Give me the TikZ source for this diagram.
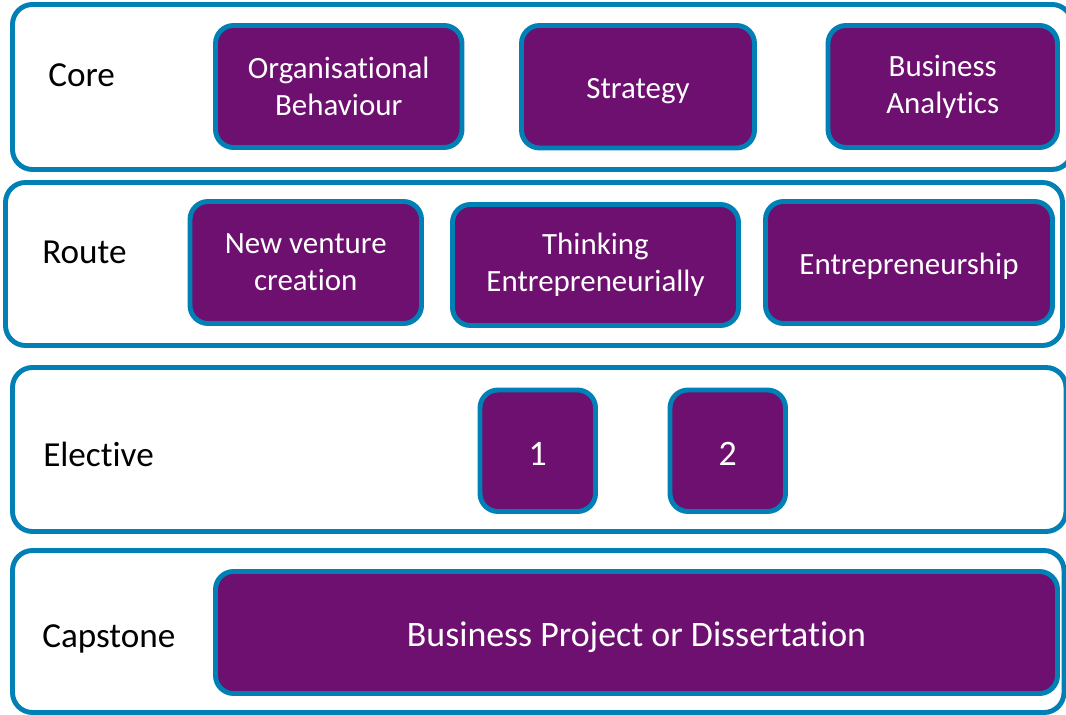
\documentclass[tikz,border=0pt]{standalone}
\usepackage{fontspec}
\setmainfont{Carlito}[Ligatures={NoCommon}]
\usetikzlibrary{fit}
\definecolor{rowblue}{RGB}{0,128,180}
\definecolor{modpurple}{RGB}{110,16,111}

\begin{document}
\begin{tikzpicture}[
        x=0.025cm, y=-0.025cm,
        rowbox/.style={rectangle, draw=rowblue, line width=3.5pt, rounded corners=0.5cm, fill=white, inner sep=0pt},
        module/.style={rectangle, draw=rowblue, line width=3.5pt, rounded corners=0.45cm, fill=modpurple, text=white, align=center, inner sep=0pt, font=\fontsize{22}{26.3}\selectfont},
        oneline/.style={text height=16.5pt, text depth=0pt},
        bigmodule/.style={module, text height=20.5pt, text depth=0pt, font=\fontsize{25.5}{30}\selectfont},
        modsize/.style 2 args={minimum width=#1*0.025cm, minimum height=#2*0.025cm},
        rowlabel/.style={anchor=base west, inner sep=0pt, font=\fontsize{25}{30}\selectfont}
    ]
        \useasboundingbox (0,0) rectangle (1066,715);

        % Rows
        \node[rowbox, fit={(12.5,4.5) (1072,169.5)}] (corerow) {};
        \node[rowbox, fit={(5.5,182.5) (1062.5,345.5)}] (routerow) {};
        \node[rowbox, fit={(12.5,367.5) (1066,531.5)}] (electiverow) {};
        \node[rowbox, fit={(12.5,550.5) (1064,712.5)}] (capstonerow) {};

        % Row labels
        \node[rowlabel] (corelbl) at (48,87) {Core};
        \node[rowlabel] (routelbl) at (42,264) {Route};
        \node[rowlabel] (electivelbl) at (43,466) {Elective};
        \node[rowlabel] (capstonelbl) at (42,647) {Capstone};

        % Core modules
        \node[module, modsize={246.5}{122}] (orgbeh) at (338.75,86.5) {Organisational\\Behaviour};
        \node[module, oneline, modsize={233}{122.5}] (strategy) at (638,86.75) {Strategy};
        \node[module, modsize={229.5}{122}] (analytics) at (942.75,86.5) {Business\\Analytics};

        % Route modules
        \node[module, modsize={231.5}{122}] (newventure) at (305.75,262.5) {New venture\\creation};
        \node[module, modsize={286}{121}] (thinking) at (595.5,265) {Thinking\\Entrepreneurially};
        \node[module, oneline, modsize={287}{122}] (entre) at (909,262.5) {Entrepreneurship};

        % Electives
        \node[bigmodule, modsize={115.5}{121.5}] (electone) at (537.75,450.75) {1};
        \node[bigmodule, modsize={115.5}{121.5}] (electtwo) at (727.75,450.75) {2};

        % Capstone
        \node[bigmodule, modsize={842}{122}] (project) at (636.5,632.5) {Business Project or Dissertation};
    \end{tikzpicture}
\end{document}
